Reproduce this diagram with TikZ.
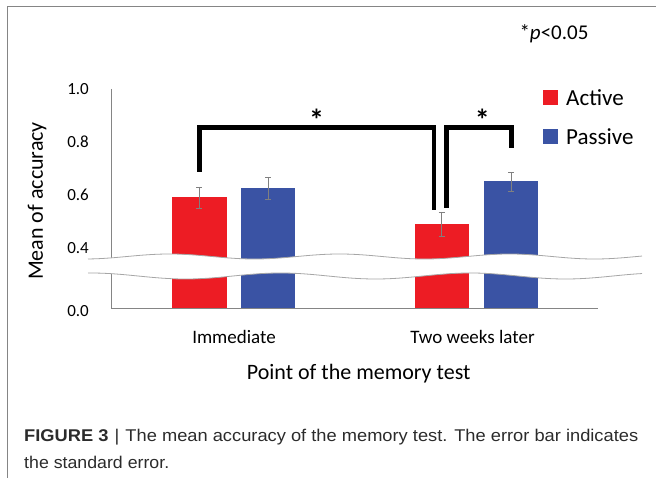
\documentclass[tikz,border=0pt]{standalone}
\usepackage{fontspec}
\setmainfont{Carlito}
\newfontfamily\capfont{Liberation Sans}
\definecolor{barred}{HTML}{ED1C24}
\definecolor{barblue}{HTML}{3A53A4}
\definecolor{axgray}{HTML}{858585}
\definecolor{capgray}{HTML}{2B2B2B}
\newcommand\myebar[3]{%
  \draw[errbar] (#1,#2) -- (#1,#3);
  \draw[errbar] (#1-3,#2) -- (#1+3,#2);
  \draw[errbar] (#1-3,#3) -- (#1+3,#3);}
\begin{document}
\begin{tikzpicture}[x=1pt,y=-1pt,
  frameline/.style={draw=axgray,line width=1pt},
  axisline/.style={draw=axgray,line width=0.9pt},
  errbar/.style={draw=gray,line width=0.7pt},
  bracket/.style={draw=black,line width=4.5pt},
  tick/.style={anchor=east,inner sep=0pt,font=\fontsize{17}{20}\selectfont},
  cat/.style={inner sep=0pt,font=\fontsize{19}{23}\selectfont},
  legtext/.style={anchor=west,inner sep=0pt,font=\fontsize{23}{28}\selectfont},
  star/.style={inner sep=0pt,font=\fontsize{30}{34}\selectfont\bfseries},
  wave/.style={draw=gray!70,line width=0.8pt}]
\useasboundingbox (0,0) rectangle (656,478);
% frame
\draw[frameline] (7,478) -- (7,7) -- (656,7);
% significance note
\node[inner sep=0pt,font=\fontsize{21}{25}\selectfont] (note) at (554,34) {*\textit{p}<0.05};
% bars
\fill[barred]  (172,308) rectangle (226.5,196.7);
\fill[barblue] (240.7,308) rectangle (295,187.7);
\fill[barred]  (414.7,308) rectangle (469.3,224);
\fill[barblue] (483.7,308) rectangle (538.3,181.3);
% error bars
\myebar{199}{187}{208}
\myebar{268}{177.7}{199}
\myebar{441.5}{212}{236.7}
\myebar{511}{172.7}{191.7}
% axes
\draw[axisline] (111.5,89) -- (111.5,308) -- (598,308);
% break band
\fill[white] plot[domain=88:642,samples=120,smooth] (\x,{256.5-2.5*sin((\x-127)*2.1176)})
  -- plot[domain=642:88,samples=120,smooth] (\x,{276-3*sin((\x-233)*1.8947)}) -- cycle;
\draw[wave] plot[domain=88:642,samples=120,smooth] (\x,{256.5-2.5*sin((\x-127)*2.1176)});
\draw[wave] plot[domain=88:642,samples=120,smooth] (\x,{276-3*sin((\x-233)*1.8947)});
% tick labels
\node[tick] (t10) at (89,89) {1.0};
\node[tick] (t08) at (89,142) {0.8};
\node[tick] (t06) at (89,195) {0.6};
\node[tick] (t04) at (89,248) {0.4};
\node[tick] (t00) at (89,311) {0.0};
% axis titles
\node[inner sep=0pt,rotate=90,font=\fontsize{22}{26}\selectfont] (ylab) at (37,201) {Mean of accuracy};
\node[cat] (c1) at (234,336.5) {Immediate};
\node[cat] (c2) at (472.5,336.5) {Two weeks later};
\node[inner sep=0pt,font=\fontsize{22}{26}\selectfont] (xlab) at (358.7,374) {Point of the memory test};
% brackets
\draw[bracket] (199.3,172) -- (199.3,127.7) -- (434,127.7) -- (434,210);
\draw[bracket] (446.7,208) -- (446.7,127.7) -- (511.7,127.7) -- (511.7,148);
\node[star] (s1) at (316.7,120) {*};
\node[star] (s2) at (482.3,120) {*};
% legend
\fill[barred]  (543,90) rectangle (558,105);
\node[legtext] (la) at (566,98) {Active};
\fill[barblue] (543,129) rectangle (558,144);
\node[legtext] (lp) at (566,136.5) {Passive};
% caption
\node[anchor=west,inner sep=0pt,text=capgray,font=\capfont\fontsize{17}{20}\selectfont] (cap1) at (24,437)
  {\resizebox{614pt}{\height}{\textbf{FIGURE 3}\,\,|\,\,The mean accuracy of the memory test. The error bar indicates}};
\node[anchor=west,inner sep=0pt,text=capgray,font=\capfont\fontsize{17}{20}\selectfont] (cap2) at (24,462)
  {\resizebox{145pt}{\height}{the standard error.}};
\end{tikzpicture}
\end{document}
